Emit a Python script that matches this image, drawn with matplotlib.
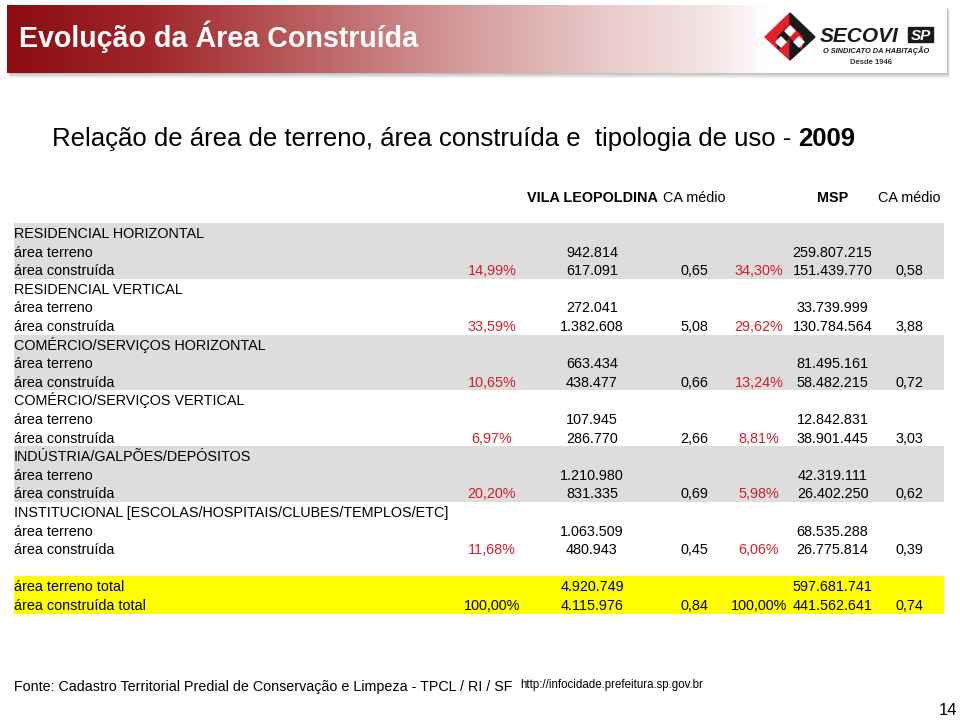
import numpy as np
import matplotlib
matplotlib.use("Agg")
import matplotlib.pyplot as plt
from matplotlib.patches import Rectangle, Polygon

plt.rcParams['font.family'] = ['Liberation Sans', 'DejaVu Sans']

# table data (Vila Leopoldina vs. Municipio de Sao Paulo, 2009)
categories = ["RESIDENCIAL HORIZONTAL", "RESIDENCIAL VERTICAL",
              "COMÉRCIO/SERVIÇOS HORIZONTAL", "COMÉRCIO/SERVIÇOS VERTICAL",
              "INDÚSTRIA/GALPÕES/DEPÓSITOS",
              "INSTITUCIONAL [ESCOLAS/HOSPITAIS/CLUBES/TEMPLOS/ETC]"]
row_labels = ["área terreno", "área construída"]
vl_terreno = [942814, 272041, 663434, 107945, 1210980, 1063509]
vl_construida = [617091, 1382608, 438477, 286770, 831335, 480943]
vl_pct = [14.99, 33.59, 10.65, 6.97, 20.20, 11.68]
vl_ca = [0.65, 5.08, 0.66, 2.66, 0.69, 0.45]
msp_terreno = [259807215, 33739999, 81495161, 12842831, 42319111, 68535288]
msp_construida = [151439770, 130784564, 58482215, 38901445, 26402250, 26775814]
msp_pct = [34.30, 29.62, 13.24, 8.81, 5.98, 6.06]
msp_ca = [0.58, 3.88, 0.72, 3.03, 0.62, 0.39]

total_labels = ["área terreno total", "área construída total"]
vl_total = [4920749, 4115976]
vl_total_pct = 100.00
vl_total_ca = 0.84
msp_total = [597681741, 441562641]
msp_total_pct = 100.00
msp_total_ca = 0.74

col_headers = ["VILA LEOPOLDINA", "CA médio", "MSP", "CA médio"]


def fmt_int(v):
    return f"{v:,}".replace(",", ".")


def fmt_dec(v):
    return f"{v:.2f}".replace(".", ",")


def fmt_pct(v):
    return fmt_dec(v) + "%"


fig = plt.figure(figsize=(9.6, 7.2), dpi=100)
ax = fig.add_axes([0, 0, 1, 1])
ax.set_xlim(0, 960)
ax.set_ylim(720, 0)
ax.axis('off')

# header banner: shadow + gradient
for k in range(1, 6):
    ax.add_patch(Rectangle((7 + k * 0.6, 5 + k * 0.9), 940, 68, color='black',
                           alpha=0.05, lw=0, zorder=0))
nodes_x = [7, 150, 300, 450, 600, 720, 770, 947]
nodes_c = np.array([[140, 12, 16], [160, 38, 42], [185, 92, 94], [210, 150, 150],
                    [232, 200, 200], [245, 232, 232], [255, 255, 255], [255, 255, 255]]) / 255
xs = np.linspace(7, 947, 940)
grad = np.stack([np.interp(xs, nodes_x, nodes_c[:, j]) for j in range(3)], axis=-1)
ax.imshow(grad[np.newaxis, :, :], extent=(7, 947, 73, 5), aspect='auto', zorder=1)
ax.text(19, 47, "Evolução da Área Construída", color='white', fontsize=20.6,
        fontweight='bold', va='baseline', ha='left', zorder=3)

# logo
red, blk = '#E3202A', '#1A1A1A'
ax.add_patch(Polygon([(790, 13), (765, 37), (790, 60)], closed=True, color=red, zorder=3))
ax.add_patch(Polygon([(790, 13), (815, 37), (790, 60)], closed=True, color=blk, zorder=3))
ax.add_patch(Polygon([(778, 37), (790, 25), (790, 37), (778, 49)], closed=True, color=blk, zorder=4))
ax.add_patch(Polygon([(802, 37), (790, 25), (790, 37), (802, 49)], closed=True, color=red, zorder=4))
for cx, cy in [(781, 42), (799, 42), (790, 31)]:
    ax.add_patch(Polygon([(cx, cy - 5), (cx + 5, cy), (cx, cy + 5), (cx - 5, cy)],
                         closed=True, color='white', zorder=5))
ax.text(820, 42, "SECOVI", fontsize=15, fontweight='bold', fontstyle='italic',
        color=blk, va='baseline', ha='left', zorder=3)
ax.add_patch(Rectangle((908, 27), 25, 15, color=blk, zorder=3))
ax.text(920.5, 40.5, "SP", fontsize=11, fontweight='bold', fontstyle='italic',
        color='white', va='baseline', ha='center', zorder=4)
ax.text(876, 53, "O SINDICATO DA HABITAÇÃO", fontsize=5.3, fontweight='bold',
        fontstyle='italic', color=blk, va='baseline', ha='center', zorder=3)
ax.text(871, 64, "Desde 1946", fontsize=5.5, fontweight='bold', color='#333333',
        va='baseline', ha='center', zorder=3)

# subtitle with bold year
sub = ax.text(52, 146, "Relação de área de terreno, área construída e  tipologia de uso - ",
              fontsize=18.5, va='baseline', ha='left')
fig.canvas.draw()
bb = sub.get_window_extent()
ax.text(bb.x1, 146, "2009", fontsize=18.5, fontweight='bold', va='baseline', ha='left')

# table layout
x_label = 14
x_vl_pct, x_vl, x_vl_ca = 492, 592, 694
x_msp_pct, x_msp, x_msp_ca = 759, 832.5, 909
row0, pitch = 233, 18.6
fs = 10.4
pct_color = '#D01F2A'


def yb(i):
    # baseline for row i
    return row0 + pitch * i + 5


for x, h, bold in zip([x_vl, x_vl_ca, x_msp, x_msp_ca], col_headers,
                      [True, False, True, False]):
    ax.text(x, 202, h, fontsize=fs, ha='center', va='baseline',
            fontweight='bold' if bold else 'normal')

for g, cat in enumerate(categories):
    r = 3 * g
    if g % 2 == 0:
        ax.add_patch(Rectangle((14, row0 + pitch * r - 10), 930, 3 * pitch,
                               color='#DDDDDD', lw=0, zorder=0.5))
    ax.text(x_label, yb(r), cat, fontsize=fs, va='baseline', ha='left')
    ax.text(x_label, yb(r + 1), row_labels[0], fontsize=fs, va='baseline')
    ax.text(x_label, yb(r + 2), row_labels[1], fontsize=fs, va='baseline')
    ax.text(x_vl, yb(r + 1), fmt_int(vl_terreno[g]), fontsize=fs, ha='center', va='baseline')
    ax.text(x_msp, yb(r + 1), fmt_int(msp_terreno[g]), fontsize=fs, ha='center', va='baseline')
    ax.text(x_vl_pct, yb(r + 2), fmt_pct(vl_pct[g]), fontsize=fs, ha='center',
            va='baseline', color=pct_color)
    ax.text(x_vl, yb(r + 2), fmt_int(vl_construida[g]), fontsize=fs, ha='center', va='baseline')
    ax.text(x_vl_ca, yb(r + 2), fmt_dec(vl_ca[g]), fontsize=fs, ha='center', va='baseline')
    ax.text(x_msp_pct, yb(r + 2), fmt_pct(msp_pct[g]), fontsize=fs, ha='center',
            va='baseline', color=pct_color)
    ax.text(x_msp, yb(r + 2), fmt_int(msp_construida[g]), fontsize=fs, ha='center', va='baseline')
    ax.text(x_msp_ca, yb(r + 2), fmt_dec(msp_ca[g]), fontsize=fs, ha='center', va='baseline')

# totals (yellow)
rt = 19
ax.add_patch(Rectangle((14, row0 + pitch * rt - 10), 930, 2 * pitch,
                       color='#FFFF00', lw=0, zorder=0.5))
for k in range(2):
    ax.text(x_label, yb(rt + k), total_labels[k], fontsize=fs, va='baseline')
    ax.text(x_vl, yb(rt + k), fmt_int(vl_total[k]), fontsize=fs, ha='center', va='baseline')
    ax.text(x_msp, yb(rt + k), fmt_int(msp_total[k]), fontsize=fs, ha='center', va='baseline')
ax.text(x_vl_pct, yb(rt + 1), fmt_pct(vl_total_pct), fontsize=fs, ha='center', va='baseline')
ax.text(x_vl_ca, yb(rt + 1), fmt_dec(vl_total_ca), fontsize=fs, ha='center', va='baseline')
ax.text(x_msp_pct, yb(rt + 1), fmt_pct(msp_total_pct), fontsize=fs, ha='center', va='baseline')
ax.text(x_msp_ca, yb(rt + 1), fmt_dec(msp_total_ca), fontsize=fs, ha='center', va='baseline')

# source + page number
src = ax.text(14, 691, "Fonte: Cadastro Territorial Predial de Conservação e Limpeza - TPCL / RI / SF",
              fontsize=10.3, va='baseline', ha='left')
fig.canvas.draw()
bb = src.get_window_extent()
ax.text(bb.x1 + 8, 688, "http://infocidade.prefeitura.sp.gov.br", fontsize=8.3,
        va='baseline', ha='left')
ax.text(957, 715, "14", fontsize=12, va='baseline', ha='right')

fig.savefig("out.png", dpi=100)
